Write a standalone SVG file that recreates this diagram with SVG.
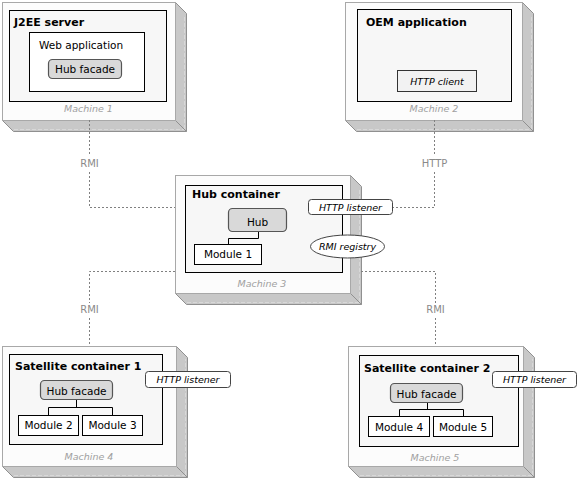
<svg xmlns="http://www.w3.org/2000/svg" width="578" height="478" viewBox="0 0 578 478">
<style>
text{font-family:"DejaVu Sans",Verdana,sans-serif;fill:#000}
.front{fill:#fcfcfc;stroke:#a8a8a8;stroke-width:1}
.side{fill:#c8c8c8;stroke:#909090;stroke-width:1;stroke-linejoin:miter}
.sideline{fill:none;stroke:#d8d8d8;stroke-width:1;stroke-dasharray:4 2}
.cont{fill:#f7f7f7;stroke:#000;stroke-width:1}
.box{fill:#fff;stroke:#000;stroke-width:1}
.comp{fill:#d9d9d9;stroke:#555;stroke-width:1.2}
.port{fill:#fff;stroke:#444;stroke-width:1}
.client{fill:#f2f2f2;stroke:#333;stroke-width:1}
.title{font-size:11px;font-weight:bold}
.lbl{font-size:10.5px}
.it{font-size:9.5px;font-style:italic}
.mach{font-size:9.5px;font-style:italic;fill:#a0a0a0}
.wire{fill:none;stroke:#000;stroke-width:1}
.conn{fill:none;stroke:#808080;stroke-width:1;stroke-dasharray:2 2}
.clbl{font-size:10px;fill:#8a8a8a}
</style>

<g id="machine1">
  <path class="side" d="M2.5,120.5 L13.5,131.5 L186.5,131.5 L186.5,13.5 L175.5,2.5 L175.5,120.5 Z"/>
  <path class="side" d="M175.5,120.5 L186.5,131.5"/>
  <path class="sideline" d="M14,129.5 H184 M184.5,129 V15"/>
  <rect class="front" x="2.5" y="2.5" width="173" height="118"/>
  <text class="mach" x="88.5" y="112" text-anchor="middle">Machine 1</text>
  <g id="j2ee">
    <rect class="cont" x="9.5" y="10.5" width="157" height="91"/>
    <text class="title" x="14" y="26">J2EE server</text>
    <g id="webapp">
      <rect class="box" x="29.5" y="32.5" width="115" height="59"/>
      <text class="lbl" x="39" y="49">Web application</text>
      <g id="hubfacade1">
        <rect class="comp" x="48.5" y="59.5" width="73" height="19" rx="4"/>
        <text class="lbl" x="85" y="73" text-anchor="middle">Hub facade</text>
      </g>
    </g>
  </g>
</g>

<g id="machine2">
  <path class="side" d="M345.5,120.5 L356.5,131.5 L533.5,131.5 L533.5,13.5 L522.5,2.5 L522.5,120.5 Z"/>
  <path class="side" d="M522.5,120.5 L533.5,131.5"/>
  <path class="sideline" d="M357,129.5 H531 M531.5,129 V15"/>
  <rect class="front" x="345.5" y="2.5" width="177" height="118"/>
  <text class="mach" x="434" y="112" text-anchor="middle">Machine 2</text>
  <g id="oem">
    <rect class="cont" x="357.5" y="9.5" width="154" height="92"/>
    <text class="title" x="366" y="26">OEM application</text>
    <g id="httpclient">
      <rect class="client" x="397.5" y="70.5" width="79" height="21"/>
      <text class="it" x="437" y="85" text-anchor="middle">HTTP client</text>
    </g>
  </g>
</g>

<g id="machine3">
  <path class="side" d="M175.5,293.5 L186.5,304.5 L361.5,304.5 L361.5,186.5 L350.5,175.5 L350.5,293.5 Z"/>
  <path class="side" d="M350.5,293.5 L361.5,304.5"/>
  <path class="sideline" d="M187,302.5 H359 M359.5,302 V188"/>
  <rect class="front" x="175.5" y="175.5" width="175" height="118"/>
  <text class="mach" x="262" y="287" text-anchor="middle">Machine 3</text>
  <g id="hubcontainer">
    <rect class="cont" x="185.5" y="185.5" width="157" height="87"/>
    <text class="title" x="192" y="198">Hub container</text>
    <path class="wire" d="M258.5,232 V238.5 H228.5 V244"/>
    <g id="hub">
      <rect class="comp" x="228.5" y="208.5" width="58" height="23" rx="4"/>
      <text class="lbl" x="257.5" y="226" text-anchor="middle">Hub</text>
    </g>
    <g id="module1">
      <rect class="box" x="194.5" y="244.5" width="67" height="20"/>
      <text class="lbl" x="228" y="258" text-anchor="middle">Module 1</text>
    </g>
  </g>
  <g id="httplistener3">
    <rect class="port" x="308.5" y="199.5" width="84" height="15" rx="3"/>
    <text class="it" x="350.5" y="211" text-anchor="middle">HTTP listener</text>
  </g>
  <g id="rmiregistry">
    <ellipse class="port" cx="347.5" cy="246.5" rx="37" ry="11.5"/>
    <text class="it" x="347.5" y="250" text-anchor="middle">RMI registry</text>
  </g>
</g>

<g id="machine4">
  <path class="side" d="M2.5,466.5 L13.5,477.5 L187.5,477.5 L187.5,357.5 L176.5,346.5 L176.5,466.5 Z"/>
  <path class="side" d="M176.5,466.5 L187.5,477.5"/>
  <path class="sideline" d="M14,475.5 H185 M185.5,475 V359"/>
  <rect class="front" x="2.5" y="346.5" width="174" height="120"/>
  <text class="mach" x="89" y="460" text-anchor="middle">Machine 4</text>
  <g id="satellite1">
    <rect class="cont" x="9.5" y="354.5" width="153" height="90"/>
    <text class="title" x="15" y="370">Satellite container 1</text>
    <path class="wire" d="M76.5,400 V407.5 M48.5,415 V407.5 H112.5 V415"/>
    <g id="hubfacade4">
      <rect class="comp" x="40.5" y="380.5" width="72" height="19" rx="4"/>
      <text class="lbl" x="76.5" y="395" text-anchor="middle">Hub facade</text>
    </g>
    <g id="module2">
      <rect class="box" x="18.5" y="415.5" width="60" height="20"/>
      <text class="lbl" x="48.5" y="429" text-anchor="middle">Module 2</text>
    </g>
    <g id="module3">
      <rect class="box" x="82.5" y="415.5" width="60" height="20"/>
      <text class="lbl" x="112.5" y="429" text-anchor="middle">Module 3</text>
    </g>
  </g>
  <g id="httplistener4">
    <rect class="port" x="145.5" y="371.5" width="85" height="16" rx="3"/>
    <text class="it" x="188" y="383" text-anchor="middle">HTTP listener</text>
  </g>
</g>

<g id="machine5">
  <path class="side" d="M348.5,466.5 L359.5,477.5 L534.5,477.5 L534.5,357.5 L523.5,346.5 L523.5,466.5 Z"/>
  <path class="side" d="M523.5,466.5 L534.5,477.5"/>
  <path class="sideline" d="M360,475.5 H532 M532.5,475 V359"/>
  <rect class="front" x="348.5" y="346.5" width="175" height="120"/>
  <text class="mach" x="435" y="461" text-anchor="middle">Machine 5</text>
  <g id="satellite2">
    <rect class="cont" x="359.5" y="355.5" width="159" height="91"/>
    <text class="title" x="364" y="372">Satellite container 2</text>
    <path class="wire" d="M427.5,402 V409.5 M399.5,417 V409.5 H463.5 V417"/>
    <g id="hubfacade5">
      <rect class="comp" x="390.5" y="383.5" width="72" height="19" rx="4"/>
      <text class="lbl" x="426.5" y="398" text-anchor="middle">Hub facade</text>
    </g>
    <g id="module4">
      <rect class="box" x="368.5" y="416.5" width="61" height="20"/>
      <text class="lbl" x="399" y="431" text-anchor="middle">Module 4</text>
    </g>
    <g id="module5">
      <rect class="box" x="433.5" y="416.5" width="59" height="20"/>
      <text class="lbl" x="463" y="431" text-anchor="middle">Module 5</text>
    </g>
  </g>
  <g id="httplistener5">
    <rect class="port" x="492.5" y="371.5" width="84" height="16" rx="3"/>
    <text class="it" x="534.5" y="383" text-anchor="middle">HTTP listener</text>
  </g>
</g>

<g id="connectors">
  <path class="conn" d="M89.5,120 V156 M89.5,172 V207.5 H175"/>
  <text class="clbl" x="89.5" y="167" text-anchor="middle">RMI</text>
  <path class="conn" d="M434.5,120 V156 M434.5,172 V207.5 H393"/>
  <text class="clbl" x="434.5" y="167" text-anchor="middle">HTTP</text>
  <path class="conn" d="M175,271.5 H89.5 V303 M89.5,318 V346"/>
  <text class="clbl" x="89.5" y="313" text-anchor="middle">RMI</text>
  <path class="conn" d="M361,271.5 H435.5 V303 M435.5,318 V346"/>
  <text class="clbl" x="435.5" y="313" text-anchor="middle">RMI</text>
</g>
</svg>
